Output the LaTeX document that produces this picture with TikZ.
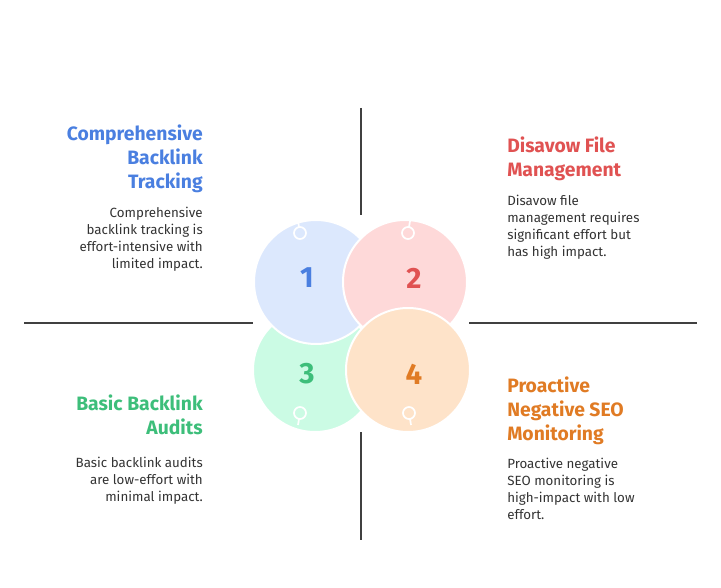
\documentclass[tikz,border=0pt]{standalone}
\usepackage{fontspec}
\setmainfont{Fira Sans}
\usetikzlibrary{positioning}
\definecolor{cblue}{HTML}{4A7FE0}
\definecolor{cred}{HTML}{E05252}
\definecolor{cgreen}{HTML}{3DBE7A}
\definecolor{corange}{HTML}{E07B24}
\definecolor{fblue}{HTML}{DCE8FD}
\definecolor{fred}{HTML}{FED9D9}
\definecolor{fgreen}{HTML}{CBFBE4}
\definecolor{forange}{HTML}{FEE3C9}
\tikzset{
axis/.style={draw=black!75, line width=1.4pt},
petal/.style={draw=white, line width=1.5pt},
knob/.style={draw=white, line width=1.3pt},
num/.style={font=\fontsize{22}{22}\selectfont\bfseries},
ttl/.style={font=\fontsize{14.5}{18}\selectfont\bfseries, inner sep=0pt},
txt/.style={font=\fontsize{10}{12.8}\selectfont, text=black!80, inner sep=0pt},
}
\begin{document}
\begin{tikzpicture}[x=0.75pt,y=-0.75pt]
\useasboundingbox (0,0) rectangle (721,588);
% quadrant lines
\coordinate (t1) at (361,108); \coordinate (t2) at (361,215);
\coordinate (b1) at (361,432); \coordinate (b2) at (361,540);
\coordinate (l1) at (24,323);  \coordinate (l2) at (253,323);
\coordinate (r1) at (469,323); \coordinate (r2) at (697,323);
\draw[axis] (t1) -- (t2) (b1) -- (b2) (l1) -- (l2) (r1) -- (r2);
% circles
\filldraw[petal, fill=fgreen] (315,370) circle (62);
\filldraw[petal, fill=fblue] (316,282) circle (62);
\filldraw[petal, fill=fred] (405,282) circle (62);
\filldraw[petal, fill=forange] (408,370) circle (62);
% knobs
\draw[knob] (300,233) circle (6) (299,227) -- (298,221);
\draw[knob] (408,233) circle (6) (409,227) -- (410,221);
\draw[knob] (300,413) circle (6) (299,419) -- (298,425);
\draw[knob] (409,413) circle (6) (410,419) -- (411,425);
\node[num, text=cblue] (n1) at (307,278) {1};
\node[num, text=cred] (n2) at (414,278) {2};
\node[num, text=cgreen] (n3) at (307,374) {3};
\node[num, text=corange] (n4) at (414,374) {4};
% texts
\node[ttl, text=cblue, anchor=north east, align=right] (h1) at (203,125) {Comprehensive\\Backlink\\Tracking};
\node[txt, anchor=north east, align=right] (d1) at (203,207) {Comprehensive\\backlink tracking is\\effort-intensive with\\limited impact.};
\node[ttl, text=cred, anchor=north west, align=left] (h2) at (507,137) {Disavow File\\Management};
\node[txt, anchor=north west, align=left] (d2) at (507,195) {Disavow file\\management requires\\significant effort but\\has high impact.};
\node[ttl, text=cgreen, anchor=north east, align=right] (h3) at (203,395) {Basic Backlink\\Audits};
\node[txt, anchor=north east, align=right] (d3) at (203,457) {Basic backlink audits\\are low-effort with\\minimal impact.};
\node[ttl, text=corange, anchor=north west, align=left] (h4) at (507,377) {Proactive\\Negative SEO\\Monitoring};
\node[txt, anchor=north west, align=left] (d4) at (507,458) {Proactive negative\\SEO monitoring is\\high-impact with low\\effort.};
\end{tikzpicture}
\end{document}
